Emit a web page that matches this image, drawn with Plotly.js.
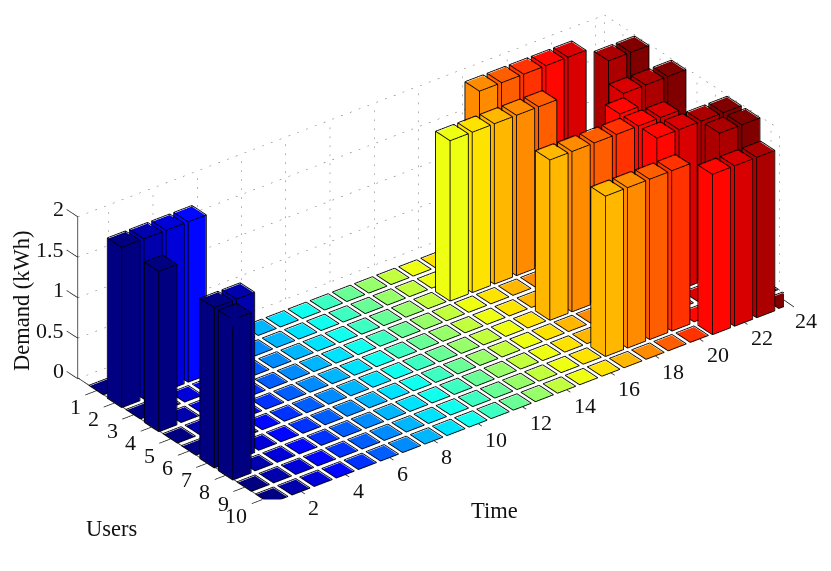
<!DOCTYPE html>
<html>
<head>
<meta charset="utf-8">
<script src="https://cdn.plot.ly/plotly-3.0.1.min.js"></script>
<style>
html, body { margin: 0; padding: 0; background: #fff; }
#myGraph { width: 831px; height: 571px; }
</style>
</head>
<body>
<div id="myGraph"></div>
<script>
// demand (kWh) per time slot, one array per user
let user1  = [0,0,0,0,0,0,0,0,0,0,0,0,0,0,0,0,0,1.97,1.97,1.97,1.97,1.97,0,0];
let user2  = [1.97,1.97,1.97,1.97,0,0,0,0,0,0,0,0,0,0,0,0,0,0,0,0,0,0,1.97,1.97];
let user3  = [0,0,0,0,0,0,0,0,0,0,0,0,0,0,1.97,1.97,1.97,1.97,1.97,0,0,0,0,0];
let user4  = [1.97,0,0,0,0,0,0,0,0,0,0,0,0,0,0,0,0,0,0,0,0,1.97,1.97,1.97];
let user5  = [0,0,0,0,0,0,0,0,0,0,0,0,0,0,0,0,0,0,0,0,1.97,0,0,0];
let user6  = [0,0,0,0,0,0,0,0,0,0,0,0,0,0,0,0,1.97,1.97,1.97,1.97,1.97,1.97,0,0];
let user7  = [1.97,1.97,0,0,0,0,0,0,0,0,0,0,0,0,0,0,0,0,0,0,1.97,1.97,1.97,1.97];
let user8  = [1.97,0,0,0,0,0,0,0,0,0,0,0,0,0,0,0,0,0,0,0,0,0,1.97,1.97];
let user9  = [0,0,0,0,0,0,0,0,0,0,0,0,0,0,0,0,1.97,1.97,1.97,1.97,0,0,0,0];
let user10 = [0,0,0,0,0,0,0,0,0,0,0,0,0,0,0,0,0,0,0,0,1.97,1.97,1.97,0];
let demand = [user1, user2, user3, user4, user5, user6, user7, user8, user9, user10];

let timeTicks = [2,4,6,8,10,12,14,16,18,20,22,24];
let userTicks = [1,2,3,4,5,6,7,8,9,10];
let demandTicks = [0,0.5,1,1.5,2];
let demandLabels = ['0','0.5','1','1.5','2'];

let halfTime = 0.4, halfUser = 0.38;
let wallTime = [0.6, 24.4];   // 後牆 time 範圍
let wallUser = [0, 9.45];     // 右牆 user 範圍
let serif = 'Liberation Serif, Times New Roman, serif';

// jet 色階, colour depends only on the time slot
function jet(t) {
    let x = (t - 1) / 23;
    function ch(v) { return Math.round(255 * Math.max(0, Math.min(1, 1.5 - Math.abs(4 * x - v)))); }
    return 'rgb(' + ch(3) + ',' + ch(2) + ',' + ch(1) + ')';
}

/* =========== bars ============ */
let mx = [], my = [], mz = [], mi = [], mj = [], mk = [], mc = [];
let ex = [], ey = [], ez = [];

function addQuad(p, color) {
    let n = mx.length;
    p.forEach(function (q) { mx.push(q[0]); my.push(q[1]); mz.push(q[2]); });
    mi.push(n, n); mj.push(n + 1, n + 2); mk.push(n + 2, n + 3);
    mc.push(color, color);
}

function addEdge(a, b) {
    ex.push(a[0], b[0], null);
    ey.push(a[1], b[1], null);
    ez.push(a[2], b[2], null);
}

demand.forEach(function (row, r) {
    row.forEach(function (h, c) {
        let t = c + 1, u = r + 1, color = jet(t);
        let t0 = t - halfTime, t1 = t + halfTime, u0 = u - halfUser, u1 = u + halfUser;
        addQuad([[t0,u0,h],[t1,u0,h],[t1,u1,h],[t0,u1,h]], color);
        if (h > 0) {
            addQuad([[t0,u0,0],[t1,u0,0],[t1,u0,h],[t0,u0,h]], color);
            addQuad([[t0,u1,0],[t1,u1,0],[t1,u1,h],[t0,u1,h]], color);
            addQuad([[t0,u0,0],[t0,u1,0],[t0,u1,h],[t0,u0,h]], color);
            addQuad([[t1,u0,0],[t1,u1,0],[t1,u1,h],[t1,u0,h]], color);
        }
        // 邊線稍微外推，避免跟面重疊閃爍
        let e = 0.012;
        let a0 = t0 - e, a1 = t1 + e, b0 = u0 - e, b1 = u1 + e, z = h + 0.01;
        addEdge([a0,b0,z],[a1,b0,z]);
        addEdge([a1,b0,z],[a1,b1,z]);
        addEdge([a1,b1,z],[a0,b1,z]);
        addEdge([a0,b1,z],[a0,b0,z]);
        if (h > 0) {
            addEdge([a0,b0,0],[a0,b0,z]);
            addEdge([a1,b0,0],[a1,b0,z]);
            addEdge([a1,b1,0],[a1,b1,z]);
            addEdge([a0,b1,0],[a0,b1,z]);
            addEdge([a0,b1,0],[a1,b1,0]);
            addEdge([a0,b1,0],[a0,b0,0]);
        }
    });
});

let bars = {
    type: 'mesh3d',
    x: mx, y: my, z: mz, i: mi, j: mj, k: mk,
    facecolor: mc,
    flatshading: true,
    lighting: { ambient: 1, diffuse: 0, specular: 0, roughness: 1, fresnel: 0 },
    hoverinfo: 'skip',
    showscale: false
};

let edges = {
    type: 'scatter3d',
    mode: 'lines',
    x: ex, y: ey, z: ez,
    line: { color: '#000', width: 1.7 },
    hoverinfo: 'skip',
    showlegend: false
};

/* =========== dotted grid on the back walls ============ */
// gl 的 dash 太長，所以自己切成一小段一小段
let gx = [], gy = [], gz = [];
function addGrid(a, b, steps) {
    for (let n = 0; n < steps; n++) {
        let f0 = n / steps, f1 = (n + 0.2) / steps;
        gx.push(a[0] + (b[0] - a[0]) * f0, a[0] + (b[0] - a[0]) * f1, null);
        gy.push(a[1] + (b[1] - a[1]) * f0, a[1] + (b[1] - a[1]) * f1, null);
        gz.push(a[2] + (b[2] - a[2]) * f0, a[2] + (b[2] - a[2]) * f1, null);
    }
}
demandTicks.forEach(function (z) {
    addGrid([wallTime[0], wallUser[0], z], [wallTime[1], wallUser[0], z], 60);
    addGrid([wallTime[1], wallUser[0], z], [wallTime[1], wallUser[1], z], 24);
});
timeTicks.forEach(function (t) {
    addGrid([t, wallUser[0], 0], [t, wallUser[0], 2], 18);
});
userTicks.forEach(function (u) {
    if (u < wallUser[1]) addGrid([wallTime[1], u, 0], [wallTime[1], u, 2], 18);
});
addGrid([wallTime[1], wallUser[0], 0], [wallTime[1], wallUser[0], 2], 18);
addGrid([wallTime[1], wallUser[1], 0], [wallTime[1], wallUser[1], 2], 18);

let grid = {
    type: 'scatter3d',
    mode: 'lines',
    x: gx, y: gy, z: gz,
    line: { color: '#666', width: 1 },
    hoverinfo: 'skip',
    showlegend: false
};

/* =========== axis line and tick marks ============ */
let ax = [], ay = [], az = [];
function addAxis(a, b) {
    ax.push(a[0], b[0], null);
    ay.push(a[1], b[1], null);
    az.push(a[2], b[2], null);
}
addAxis([wallTime[0], wallUser[0], 0], [wallTime[0], wallUser[0], 2]);
addAxis([wallTime[0], wallUser[0], 0.01], [wallTime[0], 10.4, 0.01]);
demandTicks.forEach(function (z) {
    addAxis([wallTime[0], wallUser[0], z], [wallTime[0], wallUser[0] - 0.6, z]);
});
userTicks.forEach(function (u) {
    addAxis([wallTime[0], u, 0], [wallTime[0] - 0.5, u, 0]);
});
timeTicks.forEach(function (t) {
    addAxis([t, 10.38, 0.01], [t, 10.6, 0.01]);
});

let axisMarks = {
    type: 'scatter3d',
    mode: 'lines',
    x: ax, y: ay, z: az,
    line: { color: '#222', width: 1.5 },
    hoverinfo: 'skip',
    showlegend: false
};

/* =========== tick labels as scene annotations ============ */
function tickLabel(x, y, z, text, xshift, yshift, anchor) {
    return {
        x: x, y: y, z: z, text: text,
        showarrow: false,
        xanchor: anchor, yanchor: 'middle',
        xshift: xshift, yshift: yshift,
        font: { family: serif, size: 22, color: '#111' }
    };
}
let sceneLabels = [];
timeTicks.forEach(function (t) {
    sceneLabels.push(tickLabel(t, 10, 0, String(t), 12.5, -19.5, 'left'));
});
userTicks.forEach(function (u) {
    sceneLabels.push(tickLabel(wallTime[0], u, 0, String(u), -13.5, -16, 'right'));
});
demandTicks.forEach(function (z, n) {
    sceneLabels.push(tickLabel(wallTime[0], wallUser[0], z, demandLabels[n], -12, 8, 'right'));
});

function axisStyle(range) {
    return {
        title: { text: '' },
        range: range,
        showticklabels: false,
        ticks: '',
        showline: false,
        showgrid: false,
        zeroline: false,
        showbackground: false,
        showspikes: false
    };
}

function axisTitle(text, x, y, angle) {
    return {
        text: text, x: x / 831, y: 1 - y / 571,
        xref: 'paper', yref: 'paper',
        xanchor: 'center', yanchor: 'middle',
        showarrow: false, textangle: angle,
        font: { family: serif, size: 22.5, color: '#111' }
    };
}

// 原圖邊角被裁掉的地方 (左下、右下), 最後一個 tick 另外補回
let clipShapes = [
    { type: 'rect', xref: 'paper', yref: 'paper', x0: 262 / 831, x1: 295 / 831, y0: 1 - 507 / 571, y1: 1 - 499.5 / 571,
      fillcolor: '#fff', line: { width: 0 } },
    { type: 'rect', xref: 'paper', yref: 'paper', x0: 784 / 831, x1: 804 / 831, y0: 1 - 309 / 571, y1: 1 - 285 / 571,
      fillcolor: '#fff', line: { width: 0 } },
    { type: 'line', xref: 'paper', yref: 'paper', x0: 784 / 831, x1: 794 / 831, y0: 1 - 300 / 571, y1: 1 - 307 / 571,
      line: { color: '#333', width: 1 } }
];

let layout = {
    width: 831,
    height: 571,
    margin: { l: 0, r: 0, t: 0, b: 0 },
    paper_bgcolor: '#fff',
    showlegend: false,
    hovermode: false,
    shapes: clipShapes,
    scene: {
        domain: { x: [0, 1], y: [0, 1] },
        xaxis: axisStyle([-0.5, 25.5]),
        yaxis: axisStyle([11.5, -1]),
        zaxis: axisStyle([-0.1, 2.1]),
        aspectmode: 'manual',
        aspectratio: { x: 2.539, y: 1.332, z: 0.7205 },
        annotations: sceneLabels,
        camera: {
            projection: { type: 'orthographic' },
            eye: { x: -0.617, y: -0.674, z: 0.423 },
            center: { x: -0.0902, y: 0.0134, z: -0.0767 },
            up: { x: 0, y: 0, z: 1 }
        }
    },
    annotations: [
        axisTitle('Users', 111, 528, 0),
        axisTitle('Time', 494, 510, 0),
        axisTitle('Demand (kWh)', 21, 301, -90)
    ]
};

Plotly.newPlot('myGraph', [grid, bars, edges, axisMarks], layout, { displayModeBar: false });
</script>
</body>
</html>
